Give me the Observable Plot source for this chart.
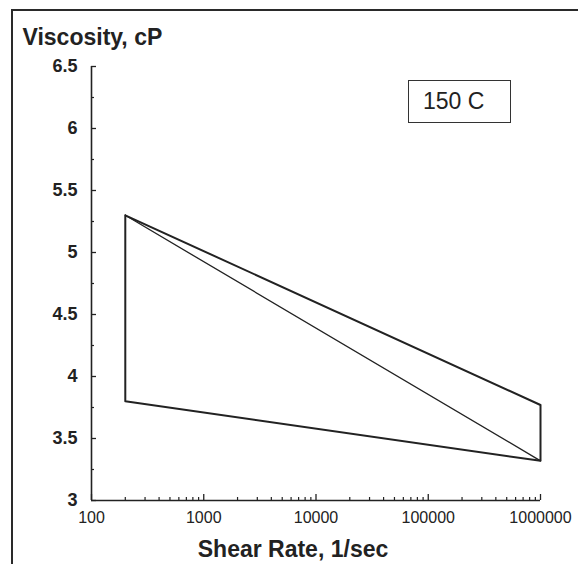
<!DOCTYPE html>
<html>
<head>
<meta charset="utf-8">
<script src="https://cdn.jsdelivr.net/npm/d3@7"></script>
<script src="https://cdn.jsdelivr.net/npm/@observablehq/plot@0.6"></script>
<style>
  html, body { margin: 0; padding: 0; background: #fff; }
  #wrap { position: relative; width: 578px; height: 564px; overflow: hidden; font-family: "Liberation Sans", Arial, sans-serif; }
  #border { position: absolute; left: 11px; top: 9px; width: 580px; height: 600px; border-top: 2px solid #2a2a2a; border-left: 2px solid #2a2a2a; }
  #tempBox { position: absolute; left: 408px; top: 80px; width: 87px; height: 41px; border: 1.5px solid #333;
             display: flex; align-items: center; padding-left: 14px; box-sizing: content-box; font-size: 23px; color: #222; }
  #chart { position: absolute; left: 0; top: 0; }
</style>
</head>
<body>
<div id="wrap">
  <div id="border"></div>
  <div id="chart"></div>
  <div id="tempBox">150 C</div>
</div>
<script>
// Data
const outlineShear = [200, 1000000, 1000000, 200, 200];
const outlineVisc  = [5.3, 3.77, 3.32, 3.8, 5.3];
const diagShear = [200, 1000000];
const diagVisc  = [5.3, 3.32];

const xMajorTicks = [100, 1000, 10000, 100000, 1000000];
const xMinorTicks = [];
for (const dec of [100, 1000, 10000, 100000]) for (let k = 2; k <= 9; k++) xMinorTicks.push(dec * k);
const yMajorTicks = [3, 3.5, 4, 4.5, 5, 5.5, 6, 6.5];
const yMinorTicks = [3.25, 3.75, 4.25, 4.75, 5.25, 5.75, 6.25];

const yTitle = "Viscosity, cP";
const xTitle = "Shear Rate, 1/sec";

const outline = outlineShear.map((x, i) => ({x, y: outlineVisc[i]}));
const diag = diagShear.map((x, i) => ({x, y: diagVisc[i]}));
const ink = "#222";

const chart = Plot.plot({
  width: 578,
  height: 564,
  marginLeft: 91,
  marginRight: 38,
  marginTop: 66,
  marginBottom: 64,
  style: {fontFamily: "'Liberation Sans', Arial, sans-serif", fontSize: "16px", color: ink, background: "transparent"},
  x: {type: "log", domain: [100, 1000000]},
  y: {domain: [3, 6.5]},
  marks: [
    Plot.axisY(yMinorTicks, {tickSize: -3, text: null, stroke: ink, strokeWidth: 1.2, label: null}),
    Plot.axisY({ticks: yMajorTicks, tickSize: -5, tickPadding: 19, tickFormat: d => String(d), fontWeight: "bold", fill: ink, stroke: ink, strokeWidth: 1.3, label: null}),
    Plot.axisX(xMinorTicks, {tickSize: -3, text: null, stroke: ink, strokeWidth: 1.2, label: null}),
    Plot.axisX({ticks: xMajorTicks, tickSize: -6, tickPadding: 17, tickFormat: d => String(d), fill: ink, stroke: ink, strokeWidth: 1.3, label: null}),
    Plot.ruleX([100], {stroke: ink, strokeWidth: 1.6}),
    Plot.ruleY([3], {stroke: ink, strokeWidth: 1.6}),
    Plot.line(outline, {x: "x", y: "y", stroke: ink, strokeWidth: 2}),
    Plot.line(diag, {x: "x", y: "y", stroke: ink, strokeWidth: 1.3}),
    Plot.text([yTitle], {frameAnchor: "top-left", text: d => d, textAnchor: "start", lineAnchor: "top", dx: -69, dy: -38, fontSize: 23, fontWeight: "bold", fill: ink}),
    Plot.text([xTitle], {frameAnchor: "bottom", text: d => d, textAnchor: "middle", lineAnchor: "top", dx: -23, dy: 40, fontSize: 23, fontWeight: "bold", fill: ink})
  ]
});
// enlarge the y tick labels slightly (matching the reference)
const yLabelSet = new Set(yMajorTicks.map(String));
d3.select(chart).selectAll("text").each(function () {
  if (yLabelSet.has(this.textContent.trim()) && this.getAttribute("text-anchor") !== "middle") {
    this.setAttribute("font-size", "18");
    this.style.fontSize = "18px";
  }
});
document.getElementById("chart").appendChild(chart);
</script>
</body>
</html>
